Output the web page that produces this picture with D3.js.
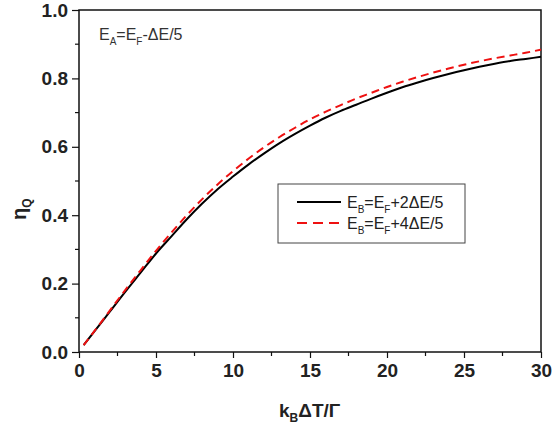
<!DOCTYPE html>
<html lang="en">
  <head>
    <meta charset="UTF-8" />
    <title>eta_Q</title>
    <script src="https://cdn.jsdelivr.net/npm/d3@7"></script>
    <style>
      body { margin: 0; background: #fff; }
      svg { font-family: "Liberation Sans", Arial, sans-serif; }
    </style>
  </head>
  <body>
    <script>
      // values
      const xValues = [0.3, 1, 2, 3, 4, 5, 6, 7, 8, 9, 10, 11, 12, 13, 14, 15, 16, 17, 18, 19, 20, 21, 22, 23, 24, 25, 26, 27, 28, 29, 30];
      const etaB2 = [0.02, 0.06, 0.118, 0.176, 0.232, 0.288, 0.338, 0.388, 0.434, 0.476, 0.513, 0.548, 0.58, 0.61, 0.637, 0.662, 0.685, 0.705, 0.723, 0.741, 0.758, 0.774, 0.788, 0.801, 0.813, 0.824, 0.834, 0.843, 0.851, 0.857, 0.863];
      const etaB4 = [0.02, 0.061, 0.121, 0.181, 0.239, 0.296, 0.349, 0.4, 0.447, 0.49, 0.529, 0.565, 0.598, 0.628, 0.655, 0.68, 0.702, 0.722, 0.741, 0.758, 0.775, 0.79, 0.804, 0.817, 0.829, 0.84, 0.85, 0.859, 0.867, 0.875, 0.884];
      const xTicks = [0, 5, 10, 15, 20, 25, 30];
      const yTicks = [0, 0.2, 0.4, 0.6, 0.8, 1.0];

      const width = 552;
      const height = 431;
      const mLeft = 79, mRight = 541, mTop = 10, mBottom = 352;

      const x = d3.scaleLinear().domain([0, 30]).range([mLeft, mRight]);
      const y = d3.scaleLinear().domain([0, 1]).range([mBottom, mTop]);

      const svg = d3.select("body").append("svg")
        .attr("width", width)
        .attr("height", height);

      // frame
      svg.append("rect")
        .attr("x", mLeft).attr("y", mTop)
        .attr("width", mRight - mLeft).attr("height", mBottom - mTop)
        .attr("fill", "none").attr("stroke", "#111").attr("stroke-width", 1.5);

      // minor ticks
      const xMinor = d3.range(2.5, 30, 5);
      const yMinor = d3.range(0.1, 1, 0.2);
      svg.append("g").selectAll("line").data(xMinor).join("line")
        .attr("x1", d => x(d)).attr("x2", d => x(d))
        .attr("y1", mBottom).attr("y2", mBottom + 4)
        .attr("stroke", "#111").attr("stroke-width", 1.2);
      svg.append("g").selectAll("line").data(yMinor).join("line")
        .attr("x1", mLeft - 4).attr("x2", mLeft)
        .attr("y1", d => y(d)).attr("y2", d => y(d))
        .attr("stroke", "#111").attr("stroke-width", 1.2);

      const xAxis = d3.axisBottom(x).tickValues(xTicks).tickSize(6).tickPadding(6).tickFormat(d3.format("d"));
      const yAxis = d3.axisLeft(y).tickValues(yTicks).tickSize(7).tickPadding(4).tickFormat(d3.format(".1f"));

      svg.append("g")
        .attr("transform", "translate(0," + mBottom + ")")
        .call(xAxis)
        .call(g => g.select(".domain").remove());
      svg.append("g")
        .attr("transform", "translate(" + mLeft + ",0)")
        .call(yAxis)
        .call(g => g.select(".domain").remove());

      svg.selectAll(".tick line").attr("stroke", "#111").attr("stroke-width", 1.2);
      svg.selectAll(".tick text")
        .attr("fill", "#222")
        .style("font-size", "19px")
        .style("font-weight", "bold")
        .style("font-family", "'Liberation Sans', Arial, sans-serif");

      // curves
      const line = d3.line().x(d => x(d[0])).y(d => y(d[1])).curve(d3.curveMonotoneX);
      svg.append("path")
        .datum(xValues.map((v, i) => [v, etaB2[i]]))
        .attr("d", line)
        .attr("fill", "none").attr("stroke", "#000").attr("stroke-width", 2);
      svg.append("path")
        .datum(xValues.map((v, i) => [v, etaB4[i]]))
        .attr("d", line)
        .attr("fill", "none").attr("stroke", "#ee1111").attr("stroke-width", 2)
        .attr("stroke-dasharray", "8,5");

      // axis titles
      const xt = svg.append("text")
        .attr("x", 279).attr("y", 417)
        .attr("fill", "#222").style("font-size", "19px").style("font-weight", "bold");
      xt.append("tspan").text("k");
      xt.append("tspan").attr("dy", 5).style("font-size", "12px").text("B");
      xt.append("tspan").attr("dy", -5).text("\u0394T/\u0393");

      const yt = svg.append("text")
        .attr("transform", "translate(26,220) rotate(-90)")
        .attr("fill", "#222").style("font-size", "20px").style("font-weight", "bold");
      yt.append("tspan").text("\u03b7");
      yt.append("tspan").attr("dy", 5).style("font-size", "12px").text("Q");

      // text with subscripts: dy is carried to the following tspan
      function eqLabel(sel, parts, subSize) {
        let shift = 0;
        parts.forEach(p => {
          if (p.sub) {
            sel.append("tspan").attr("dy", 5).style("font-size", subSize + "px").text(p.sub);
            shift = -5;
          } else {
            sel.append("tspan").attr("dy", shift).text(p.t);
            shift = 0;
          }
        });
      }

      const note = svg.append("text")
        .attr("x", 99).attr("y", 40)
        .attr("fill", "#333").style("font-size", "16px");
      eqLabel(note, [{ t: "E" }, { sub: "A" }, { t: "=E" }, { sub: "F" }, { t: "-\u0394E/5" }], 10);

      // legend
      const legend = svg.append("g");
      legend.append("rect")
        .attr("x", 278).attr("y", 184).attr("width", 187).attr("height", 59)
        .attr("fill", "#fff").attr("stroke", "#444").attr("stroke-width", 1);
      const entries = [
        { color: "#000", dash: null, parts: [{ t: "E" }, { sub: "B" }, { t: "=E" }, { sub: "F" }, { t: "+2\u0394E/5" }] },
        { color: "#ee1111", dash: "10,6", parts: [{ t: "E" }, { sub: "B" }, { t: "=E" }, { sub: "F" }, { t: "+4\u0394E/5" }] }
      ];
      entries.forEach((e, i) => {
        const ly = 202 + i * 21;
        legend.append("line")
          .attr("x1", 297).attr("x2", 341).attr("y1", ly).attr("y2", ly)
          .attr("stroke", e.color).attr("stroke-width", 2)
          .attr("stroke-dasharray", e.dash);
        const t = legend.append("text")
          .attr("x", 347).attr("y", ly + 6)
          .attr("fill", "#222").style("font-size", "16px");
        eqLabel(t, e.parts, 10);
      });
    </script>
  </body>
</html>
